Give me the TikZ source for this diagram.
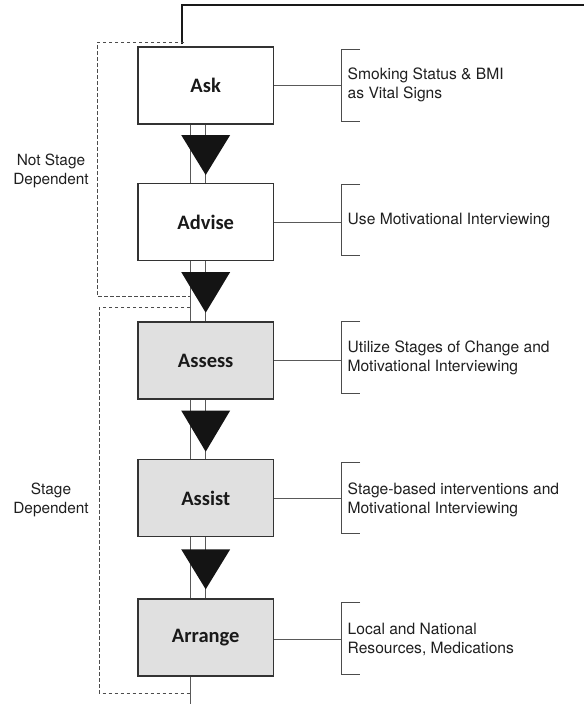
\documentclass[tikz,border=0pt]{standalone}
\usepackage{fontspec}
\setmainfont{TeX Gyre Heros}
\newfontfamily\sidefont{TeX Gyre Heros}
\newfontfamily\boxfont{Carlito}
\begin{document}
\begin{tikzpicture}[x=1pt,y=-1pt,
  stagebox/.style={draw=black!80, line width=1.1pt, minimum width=135.5pt, minimum height=77pt, inner sep=0pt, font=\boxfont\bfseries\fontsize{20.5}{24}\selectfont, text=black!90},
  greybox/.style={stagebox, fill=black!12},
  whitebox/.style={stagebox, fill=white},
  link/.style={draw=black!65, line width=1pt},
  brk/.style={draw=black!70, line width=1pt},
  dashline/.style={draw=black!70, line width=0.9pt, dash pattern=on 3.5pt off 2.5pt},
  tri/.style={fill=black!92},
  sidetext/.style={anchor=west, align=left, inner sep=0pt, font=\sidefont\fontsize{15.6}{19}\selectfont, text=black!88},
  lefttext/.style={align=center, inner sep=0pt, font=\sidefont\fontsize{15.4}{18.5}\selectfont, text=black!88}]

\useasboundingbox (0,0) rectangle (584,715);

% boxes
\node[whitebox] (ask) at (205.7,85.5) {Ask};
\node[whitebox] (advise) at (205.7,222) {Advise};
\node[greybox] (assess) at (205.7,360.5) {Assess};
\node[greybox] (assist) at (205.7,498) {Assist};
\node[greybox] (arrange) at (205.7,637.5) {Arrange};

% vertical double lines between boxes
\foreach \a/\b in {ask/advise, advise/assess, assess/assist, assist/arrange}{
  \draw[link] (\a.south) -- (\b.north);
  \draw[link] ([xshift=-15.7pt]\a.south) -- ([xshift=-15.7pt]\b.north);
}
\coordinate (tailend) at (190,704);
\draw[link] ([xshift=-15.7pt]arrange.south) -- (tailend);

% triangles
\foreach \t/\p in {135/175, 272/312.7, 410.5/451.7, 549.3/589.3}{
  \fill[tri] (181.2,\t) -- (230.2,\t) -- (205.7,\p) -- cycle;
}

% top feedback line
\coordinate (topA) at (182,44);
\coordinate (topB) at (584,5);
\draw[black!90, line width=1.6pt] (topA) |- (topB);

% dashed brackets
\coordinate (d1a) at (184,42);
\coordinate (d1b) at (97,42);
\coordinate (d1c) at (97,296);
\coordinate (d1d) at (190,296);
\draw[dashline] (d1a) -- (d1b) -- (d1c) -- (d1d);
\coordinate (d2a) at (190,307);
\coordinate (d2b) at (99.3,307);
\coordinate (d2c) at (99.3,693);
\coordinate (d2d) at (190,693);
\draw[dashline] (d2a) -- (d2b) -- (d2c) -- (d2d);

% left labels
\node[lefttext] (lab1) at (51,171) {Not Stage\\Dependent};
\node[lefttext] (lab2) at (51,500) {Stage\\Dependent};

% side brackets and texts
\foreach \n/\c/\bc in {ask/85.5/85.5, advise/222/220, assess/360/357.5, assist/498.5/498, arrange/639/638.5}{
  \coordinate (\n-br) at (341.7,\c);
  \draw[link] (\n.east |- \n-br) -- (\n-br);
  \draw[brk] (360,\bc-35.8) -- (341.7,\bc-35.8) -- (341.7,\bc+35.8) -- (360,\bc+35.8);
}
\node[sidetext] (t1) at (347.5,85) {Smoking Status \& BMI\\as Vital Signs};
\node[sidetext] (t2) at (347.5,220.5) {Use Motivational Interviewing};
\node[sidetext] (t3) at (347.5,358) {Utilize Stages of Change and\\Motivational Interviewing};
\node[sidetext] (t4) at (347.5,500) {Stage-based interventions and\\Motivational Interviewing};
\node[sidetext] (t5) at (347.5,639.5) {Local and National\\Resources, Medications};
\end{tikzpicture}
\end{document}
